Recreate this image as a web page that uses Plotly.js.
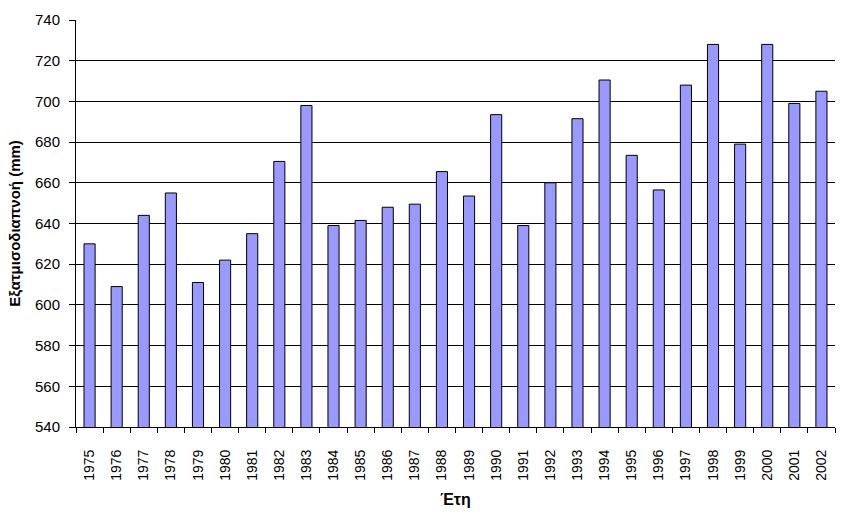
<!DOCTYPE html>
<html>
<head>
<meta charset="utf-8">
<script src="https://cdn.plot.ly/plotly-3.0.1.min.js"></script>
<style>html,body{margin:0;padding:0;background:#fff;}#chart{width:841px;height:526px;}</style>
</head>
<body>
<div id="chart"></div>
<script>
const years = ["1975","1976","1977","1978","1979","1980","1981","1982","1983","1984","1985","1986","1987","1988","1989","1990","1991","1992","1993","1994","1995","1996","1997","1998","1999","2000","2001","2002"];
const evapotranspiration = [630,609,644,655,611,622,635,670.5,698,639,641.5,648,649.5,665.5,653.5,693.5,639,660,691.5,710.5,673.5,656.5,708,728,679,728,699,705];
const yTickValues = [540,560,580,600,620,640,660,680,700,720,740];

const trace = {
  type: 'bar',
  x: years,
  y: evapotranspiration,
  marker: {color: '#9999FF', line: {color: '#000000', width: 1}},
  hoverinfo: 'x+y'
};

const layout = {
  width: 841, height: 526,
  margin: {l: 76, r: 6, t: 20, b: 99},
  paper_bgcolor: '#ffffff', plot_bgcolor: '#ffffff',
  bargap: 0.59,
  showlegend: false,
  font: {family: 'Liberation Sans, Arial, sans-serif', color: '#000000'},
  xaxis: {
    type: 'category',
    tickangle: -90,
    tickfont: {size: 14, family: 'Liberation Sans, Arial, sans-serif'},
    ticks: 'outside', ticklen: 5, tickcolor: '#000', tickwidth: 1,
    tickson: 'boundaries',
    ticklabelstandoff: 16,
    showline: true, linecolor: '#000', linewidth: 1,
    showgrid: false,
    title: {text: 'Έτη', font: {size: 16, family: 'Liberation Sans, Arial, sans-serif', weight: 'bold'}, standoff: 14}
  },
  yaxis: {
    range: [540, 740],
    tickvals: yTickValues,
    tickfont: {size: 15, family: 'Liberation Sans, Arial, sans-serif'},
    ticks: 'outside', ticklen: 6, tickcolor: '#000', tickwidth: 1,
    ticklabelstandoff: 6,
    showline: true, linecolor: '#000', linewidth: 1,
    showgrid: true, gridcolor: '#000', gridwidth: 1,
    zeroline: false,
    title: {text: 'Εξατμισοδιαπνοή (mm)', font: {size: 15, family: 'Liberation Sans, Arial, sans-serif', weight: 'bold'}, standoff: 10}
  }
};

Plotly.newPlot('chart', [trace], layout, {displayModeBar: false, staticPlot: true});
</script>
</body>
</html>
